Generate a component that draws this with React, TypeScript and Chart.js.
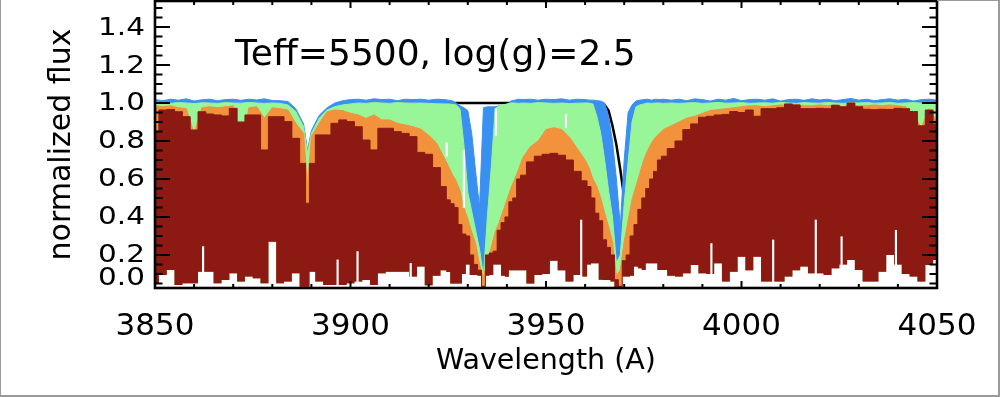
import React, { useEffect, useRef } from 'react';
import { Chart, registerables } from 'chart.js';

Chart.register(...registerables);

// ---------- data (wavelength grid in Angstrom) ----------
const WL = [
  3850, 3852, 3854, 3856, 3858, 3860, 3862, 3864, 3866, 3868, 3870, 3872, 3874, 3876, 3878, 3880, 3882, 3884, 3886, 3888,
  3889,
  3890, 3892, 3894, 3896, 3898, 3900, 3902, 3904, 3906, 3908, 3910, 3912, 3914, 3916, 3918, 3920, 3922,
  3924, 3925, 3926, 3927, 3928, 3929, 3930, 3931, 3932, 3933, 3934, 3935, 3936, 3937, 3938, 3939, 3940, 3941, 3942, 3943, 3944,
  3946, 3948, 3950, 3952, 3954, 3956, 3958,
  3960, 3961, 3962, 3963, 3964, 3965, 3966, 3967, 3968, 3969, 3970, 3971, 3972, 3973, 3974, 3975, 3976, 3977, 3978, 3979, 3980,
  3982, 3984, 3986, 3988, 3990, 3992, 3994, 3996, 3998, 4000, 4002, 4004, 4006, 4008, 4010, 4012, 4014, 4016, 4018, 4020,
  4022, 4024, 4026, 4028, 4030, 4032, 4034, 4036, 4038, 4040, 4042, 4044, 4046, 4048, 4050,
];

const DARK_RED_TOP = [
  0.85, 0.963, 0.966, 0.954, 0.928, 0.858, 0.954, 0.942, 0.937, 0.932, 0.972, 0.9, 0.937, 0.937, 0.753, 0.928, 0.928, 0.902, 0.814, 0.682,
  0.472,
  0.682, 0.832, 0.832, 0.893, 0.911, 0.902, 0.875, 0.805, 0.753, 0.867, 0.867, 0.849, 0.84, 0.823, 0.74, 0.73, 0.66,
  0.56, 0.49, 0.47, 0.45, 0.36, 0.31, 0.3, 0.2, 0.15, 0.12, 0.035, 0.2, 0.21, 0.22, 0.33, 0.37, 0.4, 0.48, 0.5, 0.6, 0.62,
  0.69, 0.72, 0.73, 0.735, 0.725, 0.7, 0.64,
  0.59, 0.56, 0.5, 0.42, 0.38, 0.28, 0.24, 0.2, 0.07, 0.035, 0.17, 0.2, 0.3, 0.36, 0.44, 0.5, 0.55, 0.6, 0.64, 0.7, 0.72,
  0.76, 0.8, 0.86, 0.89, 0.925, 0.93, 0.937, 0.94, 0.955, 0.95, 0.963, 0.93, 0.97, 0.97, 0.975, 0.995, 0.99, 0.97, 0.97, 0.972,
  0.97, 0.988, 0.98, 1.0, 0.98, 0.967, 0.965, 0.967, 0.966, 0.972, 0.97, 0.955, 0.88, 0.963, 0.89,
];

const DARK_RED_BOTTOM = [
  0.051, 0.095, 0.121, 0.042, 0.051, 0.051, 0.112, 0.112, 0.051, 0.068, 0.104, 0.06, 0.086, 0.077, 0.051, 0.27, 0.051, 0.06, 0.104, 0.033,
  0.033,
  0.112, 0.06, 0.042, 0.042, 0.042, 0.051, 0.06, 0.068, 0.042, 0.104, 0.112, 0.112, 0.112, 0.086, 0.139, 0.04, 0.09,
  0.12, 0.11, 0.05, 0.05, 0.05, 0.1, 0.15, 0.095, 0.095, 0.09, 0.027, 0.09, 0.095, 0.15, 0.15, 0.09, 0.085, 0.12, 0.12, 0.12, 0.12,
  0.05, 0.095, 0.1, 0.17, 0.12, 0.06, 0.095,
  0.086, 0.15, 0.156, 0.156, 0.07, 0.068, 0.068, 0.06, 0.027, 0.027, 0.086, 0.086, 0.09, 0.139, 0.13, 0.121, 0.156, 0.156, 0.156, 0.121, 0.121,
  0.09, 0.086, 0.104, 0.147, 0.104, 0.1, 0.156, 0.06, 0.112, 0.19, 0.12, 0.19, 0.06, 0.06, 0.06, 0.086, 0.12, 0.139, 0.104, 0.104,
  0.095, 0.13, 0.15, 0.174, 0.121, 0.06, 0.06, 0.112, 0.2, 0.15, 0.1, 0.086, 0.06, 0.147, 0.174,
];

const ORANGE_TOP = [
  0.985, 0.98, 0.985, 0.975, 0.97, 0.84, 0.975, 0.98, 0.975, 0.98, 0.985, 0.72, 0.975, 0.98, 0.92, 0.975, 0.97, 0.963, 0.893, 0.84,
  0.56,
  0.823, 0.893, 0.954, 0.963, 0.96, 0.946, 0.937, 0.919, 0.937, 0.911, 0.911, 0.893, 0.884, 0.875, 0.862, 0.83, 0.79,
  0.71, 0.67, 0.625, 0.59, 0.54, 0.45, 0.39, 0.32, 0.26, 0.15, 0.08, 0.17, 0.24, 0.32, 0.37, 0.43, 0.49, 0.55, 0.6, 0.65, 0.71,
  0.77, 0.8, 0.86, 0.87, 0.86, 0.82, 0.76,
  0.7, 0.66, 0.6, 0.56, 0.5, 0.42, 0.35, 0.27, 0.09, 0.12, 0.27, 0.38, 0.49, 0.56, 0.63, 0.7, 0.75, 0.79, 0.82, 0.84, 0.86,
  0.88, 0.9, 0.92, 0.93, 0.945, 0.96, 0.965, 0.97, 0.975, 0.98, 0.985, 0.985, 0.98, 0.985, 0.99, 0.985, 0.99, 0.985, 0.985, 0.99,
  0.985, 0.99, 0.98, 0.99, 0.985, 0.985, 0.99, 0.985, 0.99, 0.985, 0.98, 0.94, 0.87, 0.97, 0.9,
];

const GREEN_TOP = [
  1.0, 1.003, 0.998, 1.002, 1.0, 0.997, 1.001, 1.0, 0.998, 1.002, 1.0, 0.999, 1.003, 1.0, 0.998, 1.0, 0.998, 0.99, 0.955, 0.875,
  0.735,
  0.84, 0.92, 0.963, 0.981, 0.99, 0.995, 1.0, 0.998, 1.002, 1.0, 0.998, 1.002, 1.0, 0.999, 1.0, 0.998, 0.996,
  0.995, 0.995, 0.993, 0.99, 0.97, 0.78, 0.53, 0.43, 0.33, 0.23, 0.09, 0.4, 0.66, 0.97, 0.985, 0.99, 0.995, 1.0, 1.0, 0.998, 1.0,
  0.998, 1.002, 1.0, 0.998, 1.0, 0.997, 0.999,
  1.0, 1.0, 0.995, 0.93, 0.84, 0.7, 0.54, 0.4, 0.16, 0.2, 0.47, 0.69, 0.9, 0.98, 0.99, 0.995, 1.0, 0.998, 1.0, 1.0, 0.998,
  1.0, 0.998, 1.0, 1.002, 0.998, 1.0, 1.003, 0.999, 1.0, 1.002, 0.998, 1.0, 1.001, 0.999, 1.003, 1.0, 0.998, 1.002, 1.0, 0.999,
  1.003, 1.0, 0.998, 1.001, 1.0, 1.002, 0.999, 1.0, 1.003, 0.998, 1.0, 1.002, 0.999, 1.001, 1.0,
];

const BLUE_TOP = [
  1.018, 1.012, 1.02, 1.015, 1.022, 1.01, 1.017, 1.02, 1.012, 1.018, 1.02, 1.014, 1.02, 1.016, 1.022, 1.013, 1.012, 1.008, 0.97, 0.89,
  0.75,
  0.855, 0.935, 0.975, 1.0, 1.012, 1.018, 1.02, 1.015, 1.022, 1.018, 1.02, 1.012, 1.02, 1.018, 1.02, 1.015, 1.02,
  1.018, 1.015, 1.012, 1.0, 0.985, 0.975, 0.96, 0.84, 0.64, 0.45, 0.975, 0.98, 0.98, 0.98, 0.985, 0.985, 0.99, 1.01, 1.015, 1.02, 1.018,
  1.02, 1.015, 1.02, 1.018, 1.022, 1.015, 1.02,
  1.018, 1.015, 1.015, 1.012, 1.01, 1.0, 0.93, 0.8, 0.6, 0.35, 0.7, 0.95, 0.99, 1.01, 1.015, 1.018, 1.02, 1.015, 1.02, 1.018, 1.02,
  1.015, 1.02, 1.012, 1.022, 1.018, 1.01, 1.02, 1.015, 1.024, 1.012, 1.018, 1.02, 1.015, 1.022, 1.01, 1.018, 1.02, 1.014, 1.022, 1.016,
  1.02, 1.012, 1.018, 1.024, 1.015, 1.02, 1.012, 1.018, 1.022, 1.015, 1.02, 1.01, 1.018, 1.02, 1.015,
];

const BLACK_WL = [3850, 3880, 3884, 3886, 3888, 3889, 3890, 3892, 3894, 3896, 3898, 3900, 3964, 3965, 3966, 3967, 3968, 3969, 3970, 3971, 3972, 3973, 3974, 3975, 3976, 4050];
const BLACK_FLUX = [1.0, 1.0, 0.99, 0.945, 0.855, 0.705, 0.815, 0.91, 0.95, 0.975, 0.99, 1.0, 1.0, 0.99, 0.96, 0.88, 0.78, 0.65, 0.5, 0.65, 0.8, 0.9, 0.96, 0.985, 1.0, 1.0];

// thin data gaps (white streaks) seen in the noisy spectra
const GAP_WL = [3862.3, 3896.7, 3901.8, 3915.4, 3924.6, 3929.0, 3937.2, 3955.1, 3959.0, 3992.3, 4008.1, 4019.0, 4025.6, 4039.5];
const GAP_LOW = [0.03, 0.03, 0.03, 0.03, 0.72, 0.45, 0.83, 0.87, 0.03, 0.03, 0.03, 0.03, 0.03, 0.03];
const GAP_HIGH = [0.244, 0.174, 0.218, 0.156, 0.79, 0.75, 0.97, 0.94, 0.384, 0.26, 0.279, 0.384, 0.296, 0.33];

const X_TICKS = [3850, 3900, 3950, 4000, 4050];
const X_TICK_LABELS = ['3850', '3900', '3950', '4000', '4050'];
const Y_TICKS = [0, 0.2, 0.4, 0.6, 0.8, 1.0, 1.2, 1.4];
const Y_TICK_LABELS = ['0.0', '0.2', '0.4', '0.6', '0.8', '1.0', '1.2', '1.4'];
const ANNOTATION = 'Teff=5500, log(g)=2.5';
const X_TITLE = 'Wavelength (A)';
const Y_TITLE = 'normalized flux';

const C_DARKRED = 'rgb(140,25,18)';
const C_ORANGE = 'rgb(242,146,60)';
const C_GREEN = 'rgb(152,245,152)';
const C_BLUE = 'rgb(58,144,240)';
const FONT = '"DejaVu Sans", "Liberation Sans", sans-serif';

const pts = (xs: number[], ys: number[]) => xs.map((x, i) => ({ x, y: ys[i] }));

const axisDecor = {
  id: 'axisDecor',
  afterDraw(chart: any) {
    const { ctx, chartArea: a, scales } = chart;
    const xs = scales.x;
    const ys = scales.y;
    ctx.save();
    ctx.strokeStyle = '#000';
    ctx.lineWidth = 2;
    ctx.beginPath();
    for (let k = 0; k <= 20; k++) {
      const v = 3850 + k * 10;
      const px = xs.getPixelForValue(v);
      const len = k % 5 === 0 ? 7 : 4;
      ctx.moveTo(px, a.bottom);
      ctx.lineTo(px, a.bottom - len);
      ctx.moveTo(px, a.top);
      ctx.lineTo(px, a.top + len);
    }
    for (let k = 0; k <= 40; k++) {
      const v = k * 0.05;
      if (v < ys.min || v > ys.max) continue;
      const py = ys.getPixelForValue(v);
      const len = k % 4 === 0 ? 15 : 7.5;
      ctx.moveTo(a.left, py);
      ctx.lineTo(a.left + len, py);
      ctx.moveTo(a.right, py);
      ctx.lineTo(a.right - len, py);
    }
    ctx.stroke();
    ctx.lineWidth = 2.6;
    ctx.strokeRect(a.left, a.top, a.right - a.left, a.bottom - a.top);

    ctx.fillStyle = '#000';
    ctx.font = `31px ${FONT}`;
    ctx.textAlign = 'center';
    ctx.textBaseline = 'alphabetic';
    X_TICKS.forEach((v, i) => ctx.fillText(X_TICK_LABELS[i], xs.getPixelForValue(v), a.bottom + 47));

    ctx.font = `25px ${FONT}`;
    ctx.textAlign = 'right';
    ctx.textBaseline = 'middle';
    Y_TICKS.forEach((v, i) => {
      const py = Math.min(ys.getPixelForValue(v) + 1, a.bottom - 9.5);
      ctx.save();
      ctx.translate(a.left - 10, py);
      ctx.scale(1.18, 1);
      ctx.fillText(Y_TICK_LABELS[i], 0, 0);
      ctx.restore();
    });

    ctx.font = `36px ${FONT}`;
    ctx.textAlign = 'left';
    ctx.textBaseline = 'alphabetic';
    ctx.fillText(ANNOTATION, a.left + 80, a.top + 64);
    ctx.restore();
  },
};

export default function App() {
  const ref = useRef<HTMLCanvasElement>(null);

  useEffect(() => {
    document.body.style.margin = '0';
    document.body.style.background = '#fff';
    const band = (label: string, ys: number[], color: string, stepped: any) => ({
      label,
      data: pts(WL, ys),
      borderColor: color,
      backgroundColor: color,
      borderWidth: 1,
      pointRadius: 0,
      stepped,
      fill: 5,
      clip: 0,
    });
    const chart = new Chart(ref.current as HTMLCanvasElement, {
      type: 'line',
      data: {
        datasets: [
          band('dark red', DARK_RED_TOP, C_DARKRED, 'middle'),
          band('orange', ORANGE_TOP, C_ORANGE, false),
          band('green', GREEN_TOP, C_GREEN, false),
          band('blue', BLUE_TOP, C_BLUE, false),
          {
            label: 'model',
            data: pts(BLACK_WL, BLACK_FLUX),
            borderColor: '#000',
            backgroundColor: '#000',
            borderWidth: 2.5,
            pointRadius: 0,
            fill: false,
            clip: 0,
          },
          {
            label: 'floor',
            data: pts(WL, DARK_RED_BOTTOM),
            borderColor: 'transparent',
            backgroundColor: 'transparent',
            borderWidth: 0,
            pointRadius: 0,
            stepped: 'middle',
            fill: false,
            clip: 0,
          },
          {
            type: 'bar',
            label: 'gaps',
            order: -1,
            data: GAP_WL.map((x, i) => ({ x, y: [GAP_LOW[i], GAP_HIGH[i]] })),
            backgroundColor: '#fff',
            borderWidth: 0,
            barThickness: 1.5,
            clip: 0,
          },
        ] as any,
      },
      options: {
        animation: false,
        responsive: false,
        events: [],
        layout: { padding: { top: 1, right: 63, left: 0, bottom: 0 } },
        plugins: { legend: { display: false }, tooltip: { enabled: false } },
        scales: {
          x: {
            type: 'linear',
            min: 3850,
            max: 4050,
            offset: false,
            grid: { display: false, offset: false },
            border: { display: false },
            ticks: { display: false },
            title: {
              display: true,
              text: X_TITLE,
              color: '#000',
              font: { family: FONT, size: 28.5 },
              padding: { top: 0, bottom: 18 },
            },
            afterFit: (s: any) => { s.height = 109; },
          },
          y: {
            type: 'linear',
            min: 0.026,
            max: 1.537,
            grid: { display: false },
            border: { display: false },
            ticks: { display: false },
            title: {
              display: true,
              text: Y_TITLE,
              color: '#000',
              font: { family: FONT, size: 30 },
              padding: { top: 44, bottom: 0 },
            },
            afterFit: (s: any) => { s.width = 155; },
          },
        },
      } as any,
      plugins: [axisDecor],
    });
    return () => chart.destroy();
  }, []);

  return (
    <div style={{ position: 'absolute', left: 0, top: 0, width: 1000, height: 397, background: '#fff' }}>
      <canvas ref={ref} width={1000} height={397} style={{ display: 'block' }} />
      <div
        style={{
          position: 'absolute', left: 0, top: 0, width: 1000, height: 397, boxSizing: 'border-box',
          borderLeft: '1px solid #9a9a9a', borderRight: '2px solid #9a9a9a', borderBottom: '2px solid #9a9a9a',
          pointerEvents: 'none',
        }}
      />
      <div style={{ position: 'absolute', left: 937, top: 0, width: 63, height: 1, background: '#9a9a9a' }} />
    </div>
  );
}
